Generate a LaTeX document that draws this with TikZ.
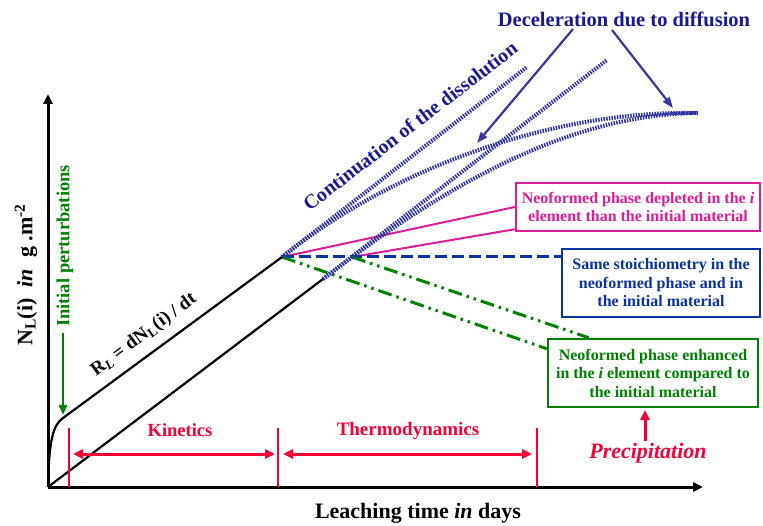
\documentclass[tikz,border=0pt]{standalone}
\usepackage{fontspec}
\setmainfont{Liberation Serif}
\usetikzlibrary{arrows.meta,calc}
\definecolor{navy}{RGB}{25,25,145}
\definecolor{dotblue}{RGB}{45,50,160}
\definecolor{arrblue}{RGB}{55,55,160}
\definecolor{pinkc}{RGB}{220,30,150}
\definecolor{boxblue}{RGB}{10,50,160}
\definecolor{greenc}{RGB}{0,128,0}
\definecolor{redc}{RGB}{245,0,55}
\tikzset{
  fs/.style={font=\fontsize{#1}{18.5}\selectfont\bfseries},
  axis/.style={line width=3, -{Triangle[length=10,width=9]}},
  curve/.style={line width=2.2, black},
  dotline/.style={dotblue, line width=4, dash pattern=on 1.5pt off 1.2pt},
  decarrow/.style={arrblue, line width=2.2, -{Triangle[length=11,width=8]}},
  pinkline/.style={pinkc, line width=2},
  blueline/.style={boxblue, line width=3, dash pattern=on 12pt off 5pt},
  greenline/.style={greenc, line width=3, dash pattern=on 14pt off 5pt on 2.5pt off 5pt on 2.5pt off 5pt},
  tbox/.style={line width=2.5, fill=white, align=center, inner sep=0pt, fs=16},
  redtick/.style={redc, line width=2},
  redarrow/.style={redc, line width=3, {Triangle[length=10,width=9]}-{Triangle[length=10,width=9]}},
  redup/.style={redc, line width=3, -{Triangle[length=10,width=9]}},
}
\begin{document}
\begin{tikzpicture}[x=1pt,y=-1pt]
\useasboundingbox (0,0) rectangle (763,526);

% key points
\coordinate (O) at (48,487);
\coordinate (xend) at (703,487);
\coordinate (yend) at (48,94);
\coordinate (K) at (63,418);
\coordinate (A) at (282,257);
\coordinate (C) at (323,279);
\coordinate (B) at (352,257);
\coordinate (Atop) at (527,67);
\coordinate (D) at (607,60);
\coordinate (E) at (698,113);

% boxes
\node[tbox, draw=pinkc, text=pinkc, minimum width=244, minimum height=48] (pinkbox) at (638,207)
  {Neoformed phase depleted in the \textit{i}\\element than the initial material};
\node[tbox, draw=boxblue, text=boxblue, minimum width=198, minimum height=68] (bluebox) at (661,283)
  {Same stoichiometry in the\\neoformed phase and in\\the initial material};
\node[tbox, draw=greenc, text=greenc, minimum width=210, minimum height=68] (greenbox) at (653,373)
  {Neoformed phase enhanced\\in the \textit{i} element compared to\\the initial material};

% pink, blue, green branches
\draw[pinkline] (A) -- (pinkbox.west);
\draw[pinkline] (B) -- ([yshift=3pt]pinkbox.south west);
\draw[blueline] (A) -- (A -| bluebox.west);
\draw[greenline] (A) -- ([yshift=-11pt]greenbox.north west);
\draw[greenline] (B) -- ([xshift=42pt]greenbox.north west);

% black curves
\draw[curve] (O) .. controls (49,440) and (53,425) .. (K) -- (A);
\draw[curve] (O) -- (C);

% blue dotted continuations
\draw[dotline] (A) -- (Atop);
\draw[dotline] (C) -- (D);
\draw[dotline] (A) .. controls (400,163) and (560,110) .. (E);
\draw[dotline] (C) .. controls (430,197) and (560,114) .. (E);

% axes
\draw[axis] (O) -- (xend);
\draw[axis] (O) -- (yend);

% texts
\node[navy, fs=20.5] (decel) at (624,19) {Deceleration due to diffusion};
\coordinate (dl) at (573,29);
\coordinate (dr) at (612,30);
\coordinate (tl) at (477,143);
\coordinate (tr) at (673,108);
\draw[decarrow] (dl) -- (tl);
\draw[decarrow] (dr) -- (tr);

\node[navy, fs=20, rotate=37.5] (cont) at (410,126) {Continuation of the dissolution};
\node[black, fs=19, rotate=36.5] (rl) at (144,335) {R\textsubscript{\textit{L}} = dN\textsubscript{L}(i) / dt};

\node[black, fs=22, rotate=90] (ylab) at (26,275) {N\textsubscript{L}(i)~ \textit{in}~ g .m\textsuperscript{-2}};
\node[black, fs=22] (xlab) at (418,513) {Leaching time \textit{in} days};

\node[greenc, fs=18.5, rotate=90] (init) at (65,246) {Initial perturbations};
\coordinate (ia) at (63,333);
\coordinate (ib) at (63,415);
\draw[greenc, line width=2.5, -{Triangle[length=10,width=8]}] (ia) -- (ib);

% red time ranges
\coordinate (r1) at (69,428);
\coordinate (r2) at (278,428);
\coordinate (r3) at (537,428);
\draw[redtick] (r1) -- (r1 |- O);
\draw[redtick] (r2) -- (r2 |- O);
\draw[redtick] (r3) -- (r3 |- O);
\coordinate (k1) at (73,454);
\coordinate (k2) at (275,454);
\coordinate (t1) at (283,454);
\coordinate (t2) at (532,454);
\draw[redarrow] (k1) -- (k2);
\draw[redarrow] (t1) -- (t2);
\node[redc, fs=18.5] (kin) at (180,430) {Kinetics};
\node[redc, fs=19] (thermo) at (408,431) {Thermodynamics};
\node[redc, font=\fontsize{22}{24}\selectfont\bfseries\itshape] (prec) at (648,453) {Precipitation};
\coordinate (pu1) at (645,441);
\coordinate (pu2) at (645,410);
\draw[redup] (pu1) -- (pu2);
\end{tikzpicture}
\end{document}
